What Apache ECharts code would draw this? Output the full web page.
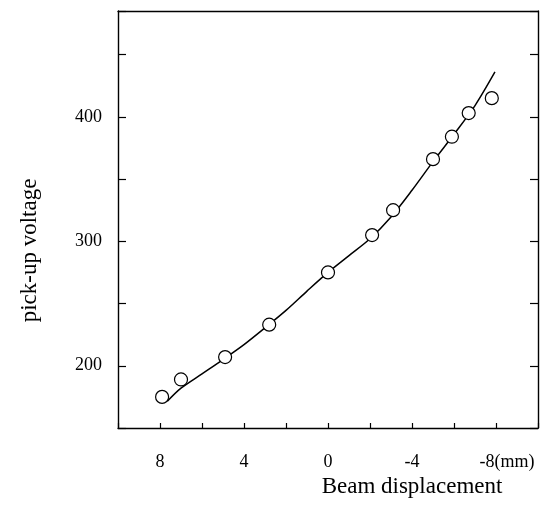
<!DOCTYPE html>
<html>
<head>
<meta charset="utf-8">
<script src="https://cdn.jsdelivr.net/npm/echarts@6/dist/echarts.min.js"></script>
<style>
html,body{margin:0;padding:0;background:#fff;}
#c{width:546px;height:506px;}
</style>
</head>
<body>
<div id="c"></div>
<script>
// Measured data points (beam displacement in mm, pick-up voltage)
const pointX = [7.9, 7.0, 4.9, 2.8, 0.0, -2.1, -3.1, -5.0, -5.9, -6.7, -7.8];
const pointY = [175, 189, 207, 233, 275, 305, 325, 366, 384, 403, 415];

// Fitted curve
const fitX = [7.65, 7.0, 6.0, 5.0, 4.0, 3.0, 2.0, 1.0, 0.0, -1.0, -2.0, -3.0, -4.0, -5.0, -6.0, -7.0, -7.95];
const fitY = [171.5, 182, 193.5, 205, 217, 230.5, 244.5, 260, 275, 288.5, 302, 319.5, 341, 364, 386, 409, 436];

// Tick labels
const xTickLabels = {"8": "8", "4": "4", "0": "0", "-4": "-4", "-8": "-8(mm)"};
const yTickLabels = [200, 300, 400];

const xTitle = "Beam displacement";
const yTitle = "pick-up voltage";

const FONT = "Liberation Serif";
const chart = echarts.init(document.getElementById('c'), null, {renderer: 'canvas'});

const axisLineStyle = {color: '#000', width: 1.4};

chart.setOption({
  animation: false,
  backgroundColor: '#fff',
  grid: {left: 118, right: 8, top: 11, bottom: 78},
  xAxis: [{
    type: 'value', min: -10, max: 10, interval: 2, inverse: true, position: 'bottom',
    axisLine: {show: true, onZero: false, lineStyle: axisLineStyle},
    axisTick: {show: true, inside: true, length: 5, lineStyle: {color: '#000', width: 1.2}},
    splitLine: {show: false},
    axisLabel: {
      margin: 25,
      fontFamily: FONT, fontSize: 18, color: '#000',
      formatter: function (v) {
        const k = String(v);
        if (k === "-8") return '{u|' + xTickLabels[k] + '}';
        return xTickLabels[k] !== undefined ? xTickLabels[k] : '';
      },
      rich: {u: {fontFamily: FONT, fontSize: 18, color: '#000', padding: [0, 0, 0, 22]}}
    },
    name: xTitle, nameLocation: 'middle', nameGap: 47,
    nameTextStyle: {fontFamily: FONT, fontSize: 23, color: '#000', padding: [0, 0, 0, 168]}
  }, {
    type: 'value', min: -10, max: 10, interval: 2, inverse: true, position: 'top',
    axisLine: {show: true, onZero: false, lineStyle: axisLineStyle},
    axisTick: {show: false}, axisLabel: {show: false}, splitLine: {show: false}
  }],
  yAxis: [{
    type: 'value', min: 150, max: 485, interval: 50, position: 'left',
    axisLine: {show: true, onZero: false, lineStyle: axisLineStyle},
    axisTick: {show: true, inside: true, length: 8, lineStyle: {color: '#000', width: 1.2}},
    splitLine: {show: false},
    axisLabel: {
      margin: 16, fontFamily: FONT, fontSize: 18, color: '#000',
      formatter: function (v) { return yTickLabels.indexOf(v) >= 0 ? String(v) : ''; }
    },
    name: yTitle, nameLocation: 'middle', nameGap: 77,
    nameTextStyle: {fontFamily: FONT, fontSize: 23, color: '#000', padding: [0, 62, 0, 0]}
  }, {
    type: 'value', min: 150, max: 485, interval: 50, position: 'right',
    axisLine: {show: true, onZero: false, lineStyle: axisLineStyle},
    axisTick: {show: true, inside: true, length: 8, lineStyle: {color: '#000', width: 1.2}},
    axisLabel: {show: false}, splitLine: {show: false}
  }],
  series: [{
    type: 'line', xAxisIndex: 0, yAxisIndex: 0,
    data: fitX.map((x, i) => [x, fitY[i]]),
    smooth: 0.3, showSymbol: false, symbol: 'none',
    lineStyle: {color: '#000', width: 1.5}, z: 2
  }, {
    type: 'scatter', xAxisIndex: 0, yAxisIndex: 0,
    data: pointX.map((x, i) => [x, pointY[i]]),
    symbol: 'circle', symbolSize: 13,
    itemStyle: {color: '#fff', opacity: 1, borderColor: '#000', borderWidth: 1.2}, z: 3
  }]
});
</script>
</body>
</html>
